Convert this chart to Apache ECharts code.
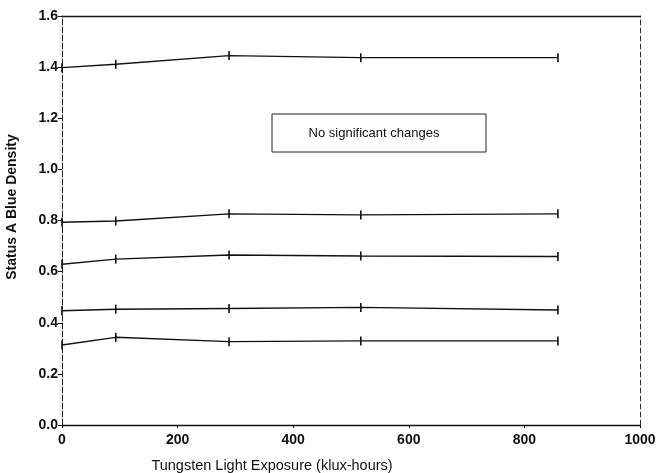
<!DOCTYPE html>
<html>
<head>
<meta charset="utf-8">
<script src="https://cdn.jsdelivr.net/npm/echarts@6/dist/echarts.min.js"></script>
<style>
  html, body { margin: 0; padding: 0; background: #fff; }
  #chart { width: 660px; height: 473px; }
</style>
</head>
<body>
<div id="chart"></div>
<script>
// Exposure levels (klux-hours) at which density was measured
const exposure = [0, 93, 289, 517, 858];

// Status A blue density for each patch, one array per starting density
const patch1 = [1.398, 1.411, 1.445, 1.437, 1.437];
const patch2 = [0.793, 0.798, 0.826, 0.822, 0.826];
const patch3 = [0.629, 0.649, 0.665, 0.661, 0.659];
const patch4 = [0.447, 0.453, 0.456, 0.460, 0.450];
const patch5 = [0.313, 0.343, 0.326, 0.329, 0.329];

const patches = [patch1, patch2, patch3, patch4, patch5];

const xTitle = 'Tungsten Light Exposure (klux-hours)';
const yTitle = 'Status A Blue Density';
const note = 'No significant changes';

const FONT = '"Liberation Sans", Arial, sans-serif';

const chart = echarts.init(document.getElementById('chart'), null, { renderer: 'canvas' });

const series = patches.map((vals, i) => ({
  type: 'line',
  name: 'patch' + (i + 1),
  data: exposure.map((x, j) => [x, vals[j]]),
  symbol: 'rect',
  symbolSize: [1.6, 9],
  showSymbol: true,
  lineStyle: { color: '#111', width: 1.4 },
  itemStyle: { color: '#111' },
  animation: false,
  silent: true
}));

chart.setOption({
  backgroundColor: '#fff',
  animation: false,
  grid: { left: 62, right: 20, top: 16, bottom: 48, containLabel: false },
  xAxis: [{
    type: 'value', min: 0, max: 1000, interval: 200,
    axisLine: { show: true, onZero: false, lineStyle: { color: '#111', width: 1.3 } },
    axisTick: { show: true, inside: false, length: 3, lineStyle: { color: '#111' } },
    axisLabel: { color: '#111', fontFamily: FONT, fontSize: 14, fontWeight: 'bold', margin: 8,
      formatter: v => String(v) },
    splitLine: { show: false }
  }, {
    type: 'value', position: 'top', min: 0, max: 1000,
    axisLine: { show: true, onZero: false, lineStyle: { color: '#111', width: 1.3 } },
    axisTick: { show: false }, axisLabel: { show: false }, splitLine: { show: false }
  }],
  yAxis: [{
    type: 'value', min: 0, max: 1.6, interval: 0.2,
    axisLine: { show: true, onZero: false, lineStyle: { color: '#222', width: 1, type: [6, 2] } },
    axisTick: { show: true, length: 4, lineStyle: { color: '#111' } },
    axisLabel: { color: '#111', fontFamily: FONT, fontSize: 14, fontWeight: 'bold', margin: 4,
      formatter: v => v.toFixed(1) },
    splitLine: { show: false }
  }, {
    type: 'value', position: 'right', min: 0, max: 1.6,
    axisLine: { show: true, onZero: false, lineStyle: { color: '#333', width: 1, type: [5, 3] } },
    axisTick: { show: false }, axisLabel: { show: false }, splitLine: { show: false }
  }],
  series: series,
  graphic: [
    {
      type: 'text', x: 272, y: 458,
      style: { text: xTitle, fill: '#111', font: '14.5px ' + FONT, textAlign: 'center' }
    },
    {
      type: 'text', x: 12, y: 207, rotation: Math.PI / 2,
      style: { text: yTitle, fill: '#111', font: 'bold 14px ' + FONT, textAlign: 'center', textVerticalAlign: 'middle' }
    },
    {
      type: 'rect', shape: { x: 272, y: 114, width: 214, height: 38 },
      style: { fill: 'none', stroke: '#222', lineWidth: 1 }
    },
    {
      type: 'text', x: 374, y: 133,
      style: { text: note, fill: '#111', font: '13px ' + FONT, textAlign: 'center', textVerticalAlign: 'middle' }
    }
  ]
});
</script>
</body>
</html>
